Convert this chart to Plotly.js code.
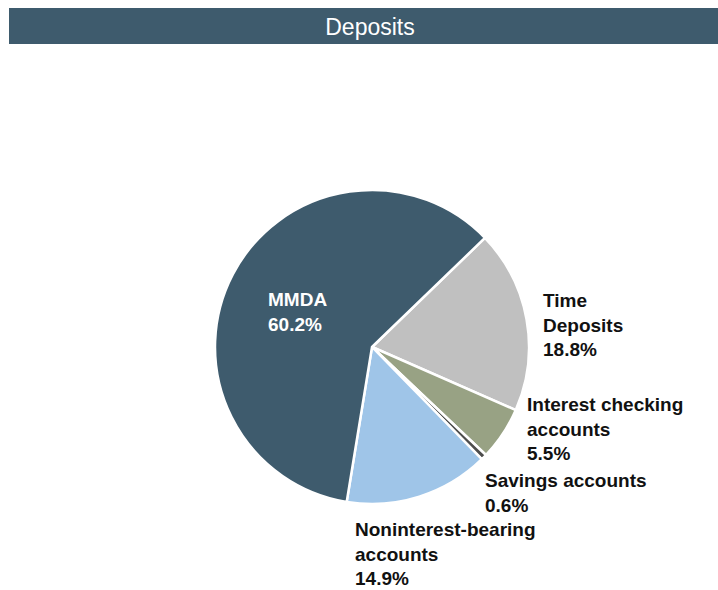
<!DOCTYPE html>
<html>
<head>
<meta charset="utf-8">
<script src="https://cdn.plot.ly/plotly-3.0.1.min.js"></script>
<style>html,body{margin:0;padding:0;background:#fff;}#chart{width:718px;height:590px;}</style>
</head>
<body>
<div id="chart"></div>
<script>
// Data (order of slices, clockwise from the Time Deposits boundary)
const categories = ["Time Deposits", "Interest checking accounts", "Savings accounts", "Noninterest-bearing accounts", "MMDA"];
const labelLines = ["Time<br>Deposits", "Interest checking<br>accounts", "Savings accounts", "Noninterest-bearing<br>accounts", "MMDA"];
const shares = [18.8, 5.5, 0.6, 14.9, 60.2];
const sliceColors = ["#c0c0c0", "#98a284", "#4d4d4d", "#9fc5e8", "#3e5b6d"];

// label placement (pixel coords in 718x590 window) and text colours
const labelPos = [[541, 325], [525, 429], [483, 493], [353, 554], [266, 312]];
const labelColors = ["#111", "#111", "#111", "#111", "#ffffff"];

const W = 718, H = 590;
const px = x => x / W;
const py = y => 1 - y / H;

const trace = {
  type: "pie",
  labels: categories,
  values: shares,
  sort: false,
  direction: "clockwise",
  rotation: 46,
  textinfo: "none",
  hoverinfo: "label+percent",
  marker: { colors: sliceColors, line: { color: "#ffffff", width: 2.5 } },
  domain: { x: [px(215), px(529)], y: [py(504), py(190)] },
  showlegend: false
};

const annotations = categories.map((c, i) => ({
  xref: "paper", yref: "paper",
  x: px(labelPos[i][0]), y: py(labelPos[i][1]),
  xanchor: "left", yanchor: "middle", align: "left",
  showarrow: false,
  text: "<b>" + labelLines[i] + "<br>" + shares[i].toFixed(1) + "%</b>",
  font: { family: "Liberation Sans, Arial, sans-serif", size: 19, color: labelColors[i] }
}));

const layout = {
  width: W, height: H,
  margin: { l: 0, r: 0, t: 0, b: 0 },
  paper_bgcolor: "#ffffff",
  font: { family: "Liberation Sans, Arial, sans-serif" },
  title: {
    text: "Deposits",
    x: px(370), xanchor: "center",
    y: py(27), yanchor: "middle",
    font: { family: "Liberation Sans, Arial, sans-serif", size: 23, color: "#ffffff" }
  },
  shapes: [{
    type: "rect", xref: "paper", yref: "paper",
    x0: px(9), x1: 1, y0: py(44), y1: py(8),
    fillcolor: "#3e5b6d", line: { width: 0 }, layer: "below"
  }],
  annotations: annotations
};

Plotly.newPlot("chart", [trace], layout, { displayModeBar: false, staticPlot: true });
</script>
</body>
</html>
